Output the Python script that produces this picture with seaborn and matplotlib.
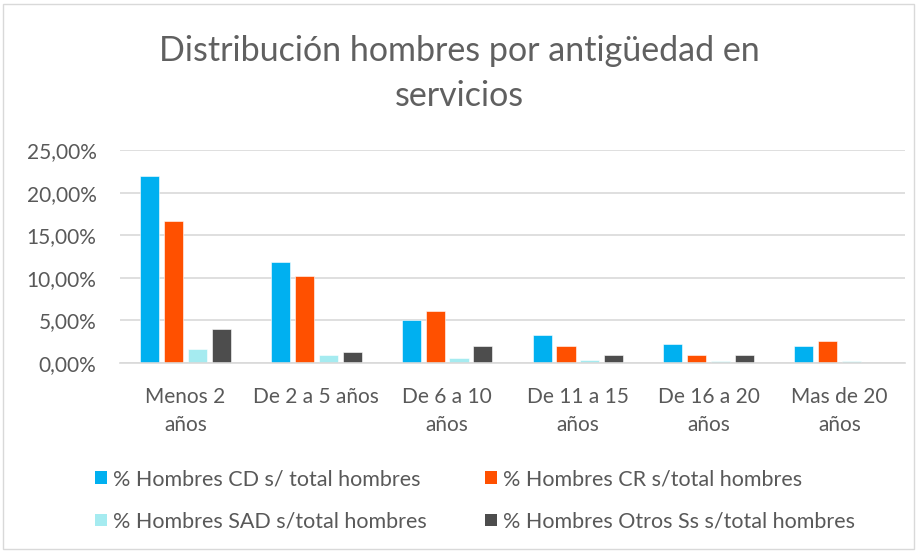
import matplotlib
matplotlib.use("Agg")
import matplotlib.pyplot as plt
import matplotlib.patches as mpatches
from matplotlib.ticker import FuncFormatter
import seaborn as sns
import pandas as pd

categories = ["Menos 2\naños", "De 2 a 5 años", "De 6 a 10\naños", "De 11 a 15\naños",
              "De 16 a 20\naños", "Mas de 20\naños"]
series_names = ["% Hombres CD s/ total hombres", "% Hombres CR s/total hombres",
                "% Hombres SAD s/total hombres", "% Hombres Otros Ss s/total hombres"]
cd = [0.219, 0.119, 0.051, 0.0334, 0.0228, 0.0197]
cr = [0.167, 0.1025, 0.0615, 0.0197, 0.0096, 0.0263]
sad = [0.0164, 0.0097, 0.006, 0.003, 0.0025, 0.0025]
otros = [0.0403, 0.0129, 0.020, 0.0096, 0.0096, 0.0]
colors = ["#00B0F0", "#FF5000", "#A5EBF0", "#4D4D4D"]

rows = []
for name, vals in zip(series_names, [cd, cr, sad, otros]):
    for c, v in zip(categories, vals):
        rows.append({"cat": c, "serie": name, "val": v})
df = pd.DataFrame(rows)

sns.set_theme(style="white")
plt.rcParams["font.family"] = ["Lato", "DejaVu Sans"]

fig = plt.figure(figsize=(9.19, 5.52), dpi=100)
ax = fig.add_axes([120/919, 1-363/552, 785/919, 213/552])
sns.barplot(data=df, x="cat", y="val", hue="serie", palette=colors, order=categories,
            hue_order=series_names, width=0.73, gap=0.2, ax=ax, legend=False,
            saturation=1, edgecolor="white", linewidth=0.4)
ax.set_ylim(0, 0.25)
ax.set_xlim(-0.5, 5.5)
ax.set_yticks([0, 0.05, 0.10, 0.15, 0.20, 0.25])
ax.yaxis.set_major_formatter(FuncFormatter(lambda v, p: f"{v*100:.2f}%".replace(".", ",")))
ax.grid(axis="y", color="#D9D9D9", linewidth=1.2)
ax.set_axisbelow(True)
for s in ["top", "right", "left"]:
    ax.spines[s].set_visible(False)
ax.spines["bottom"].set_color("#D9D9D9")
ax.spines["bottom"].set_linewidth(1.2)
ax.tick_params(axis="y", labelsize=15, colors="#595959", length=0, pad=17)
ax.tick_params(axis="x", labelsize=15, colors="#595959", length=0, pad=17)
for lab in ax.get_xticklabels():
    lab.set_linespacing(1.5)
ax.set_xlabel("")
ax.set_ylabel("")

fig.text(0.5, 1-51/552, "Distribución hombres por antigüedad en", ha="center", va="center",
         fontsize=24.5, color="#606060")
fig.text(0.5, 1-96/552, "servicios", ha="center", va="center",
         fontsize=24.5, color="#606060")

handles = [mpatches.Patch(facecolor=c, edgecolor="none") for c in colors]
order = [0, 2, 1, 3]
fig.legend([handles[i] for i in order], [series_names[i] for i in order],
           loc="upper left", bbox_to_anchor=(95/919, 1-469/552),
           ncol=2, frameon=False, fontsize=15.5, labelcolor="#595959",
           handlelength=0.55, handleheight=0.55, handletextpad=0.3, columnspacing=2.7,
           labelspacing=1.05, borderpad=0, borderaxespad=0)

border = mpatches.Rectangle((3/919, 3/552), 1-8/919, 1-7/552, transform=fig.transFigure,
                            fill=False, edgecolor="#D9D9D9", linewidth=1)
fig.patches.append(border)

fig.savefig("out.png", dpi=100)
